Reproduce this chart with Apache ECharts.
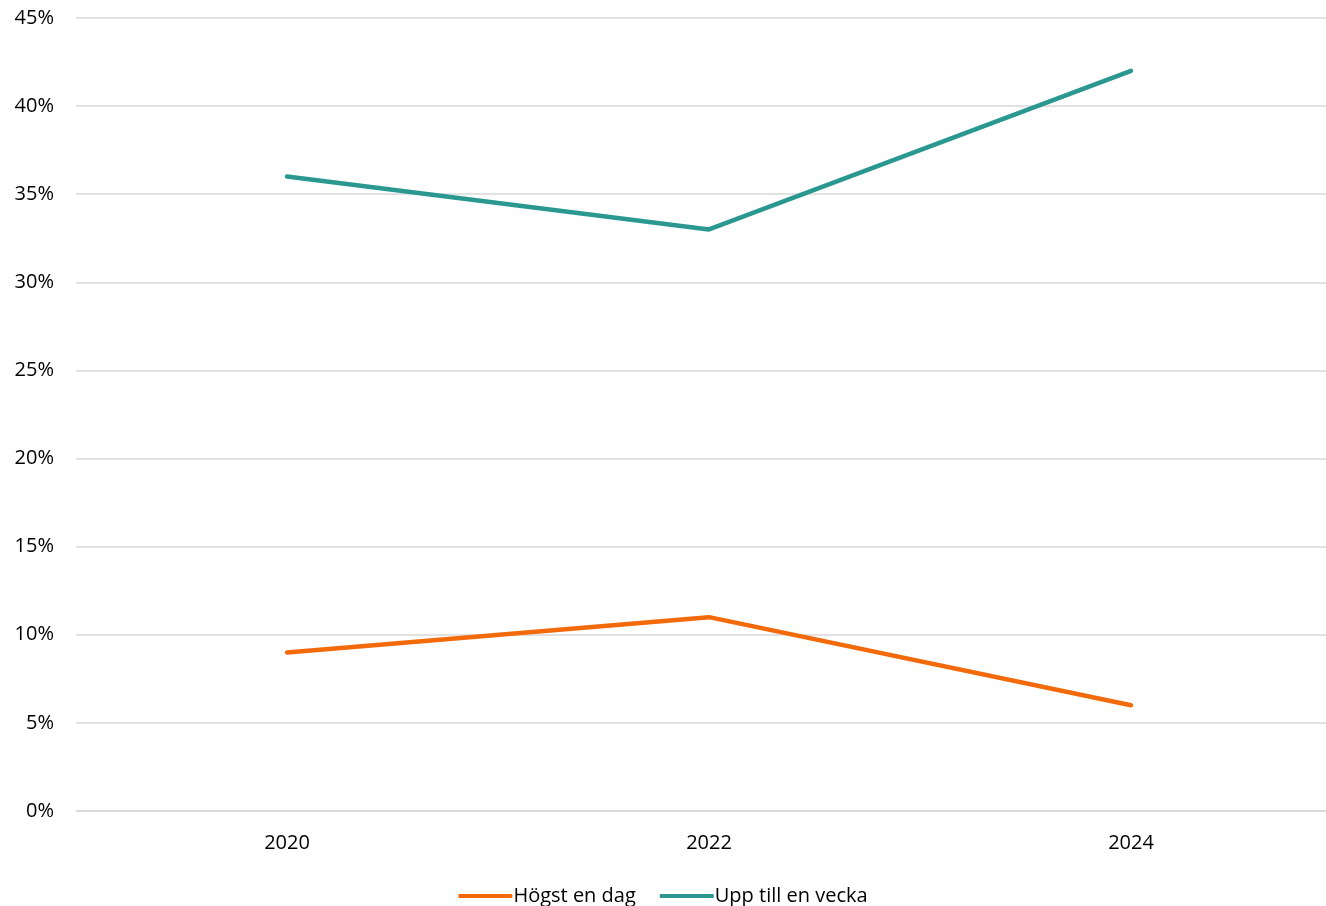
<!DOCTYPE html>
<html>
<head>
<meta charset="utf-8">
<script src="https://cdn.jsdelivr.net/npm/echarts@6/dist/echarts.min.js"></script>
<style>html,body{margin:0;padding:0;background:#fff}#chart{width:1326px;height:906px}</style>
</head>
<body>
<div id="chart"></div>
<script>
var years = [2020, 2022, 2024];
var hogstEnDag = [9, 11, 6];
var uppTillEnVecka = [36, 33, 42];
var yTicks = [0, 5, 10, 15, 20, 25, 30, 35, 40, 45];

function pairs(vals) {
    return years.map(function (y, i) { return [y, vals[i]]; });
}

var chart = echarts.init(document.getElementById('chart'));
var font = '"Open Sans", "Liberation Sans", sans-serif';
var option = {
    animation: false,
    textStyle: { fontFamily: font },
    grid: { left: 76, right: 0, top: 18, bottom: 95 },
    legend: {
        bottom: -5,
        itemWidth: 54, itemHeight: 4, itemGap: 24,
        icon: 'roundRect',
        textStyle: { fontSize: 20, color: '#000', fontFamily: font, padding: [0, 0, 0, -4] },
        data: ['Högst en dag', 'Upp till en vecka']
    },
    xAxis: {
        type: 'value',
        min: 2019, max: 2019 + 1250 / 211, interval: 1,
        axisLine: { show: true, onZero: false, lineStyle: { color: '#d9d9d9', width: 1.5 } },
        axisTick: { show: false },
        splitLine: { show: false },
        axisLabel: {
            fontSize: 20, color: '#000', margin: 22, fontFamily: font,
            showMaxLabel: false,
            formatter: function (v) { return years.indexOf(v) >= 0 ? String(v) : ''; }
        }
    },
    yAxis: {
        type: 'value',
        min: yTicks[0], max: yTicks[yTicks.length - 1], interval: 5,
        axisLine: { show: false },
        axisTick: { show: false },
        axisLabel: { fontSize: 20, color: '#000', margin: 22, formatter: '{value}%', fontFamily: font },
        splitLine: { lineStyle: { color: '#d9d9d9', width: 1.5 } }
    },
    series: [
        {
            name: 'Högst en dag', type: 'line', data: pairs(hogstEnDag),
            symbol: 'none', color: '#F26A0A',
            lineStyle: { width: 4.5, cap: 'round' }
        },
        {
            name: 'Upp till en vecka', type: 'line', data: pairs(uppTillEnVecka),
            symbol: 'none', color: '#2A9890',
            lineStyle: { width: 4.5, cap: 'round' }
        }
    ]
};
option && chart.setOption(option);
</script>
</body>
</html>
